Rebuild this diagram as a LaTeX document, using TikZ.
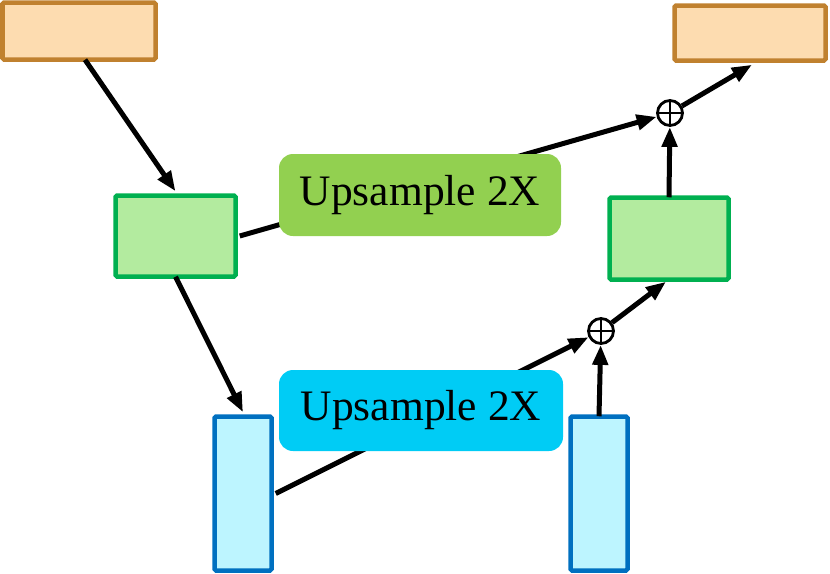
\documentclass[tikz,border=0pt]{standalone}
\usepackage{fontspec}
\setmainfont{Liberation Serif}
\usetikzlibrary{arrows.meta,calc}
\definecolor{ofill}{HTML}{FDDCB0}
\definecolor{oline}{HTML}{C0812F}
\definecolor{gfill}{HTML}{B3EB9F}
\definecolor{gline}{HTML}{00B050}
\definecolor{bfill}{HTML}{BDF5FF}
\definecolor{bline}{HTML}{0070C0}
\definecolor{glab}{HTML}{92D050}
\definecolor{blab}{HTML}{00CCF5}
\tikzset{
  box/.style={draw, line width=4.5pt, inner sep=0pt, rounded corners=1.5pt},
  obox/.style={box, fill=ofill, draw=oline},
  gbox/.style={box, fill=gfill, draw=gline},
  bbox/.style={box, fill=bfill, draw=bline},
  lab/.style={rounded corners=14pt, inner sep=0pt, font=\fontsize{43.5}{47}\selectfont},
  plusnode/.style={circle, draw, line width=2.8pt, minimum size=25pt, inner sep=0pt,
    path picture={\draw[line width=2.2pt] (path picture bounding box.north) -- (path picture bounding box.south)
      (path picture bounding box.west) -- (path picture bounding box.east);}},
  arr/.style={line width=5pt, -{Triangle[length=20pt,width=15pt]}},
  ln/.style={line width=5pt}
}
\begin{document}
\begin{tikzpicture}[x=1pt,y=-1pt]
\useasboundingbox (0,0) rectangle (830,573);
\node[obox, minimum width=153pt, minimum height=57pt] (o1) at (79,31) {};
\node[obox, minimum width=151pt, minimum height=55pt] (o2) at (750,33) {};
\node[gbox, minimum width=120pt, minimum height=81pt] (g1) at (175.5,236) {};
\node[gbox, minimum width=119pt, minimum height=82pt] (g2) at (669,238.5) {};
\node[bbox, minimum width=57pt, minimum height=154pt] (b1) at (243,493.5) {};
\node[bbox, minimum width=57pt, minimum height=154pt] (b2) at (599,493.5) {};
\node[plusnode] (p1) at (670,113) {};
\node[plusnode] (p2) at (601,331) {};
\draw[arr] ($(o1.south)+(6,-2)$) -- ($(g1.north)+(0,-2)$);
\draw[arr] ($(g1.south)+(0,-2)$) -- ($(b1.north)+(0,-2)$);
\draw[arr] ($(g1.east)+(2,0)$) -- (p1);
\draw[arr] ($(b1.east)+(2,0)$) -- (p2);
\draw[arr] ($(b2.north)+(0,2)$) -- (p2);
\draw[arr] (p2) -- ($(g2.south)+(-3,0)$);
\draw[arr] ($(g2.north)+(0,2)$) -- (p1);
\draw[arr] (p1) -- ($(o2.south)+(2,2)$);
\node[lab, fill=glab, minimum width=282pt, minimum height=82pt] (l1) at (420,195) {Upsample 2X};
\node[lab, fill=blab, minimum width=284pt, minimum height=81pt] (l2) at (421,410.5) {Upsample 2X};
\end{tikzpicture}
\end{document}
